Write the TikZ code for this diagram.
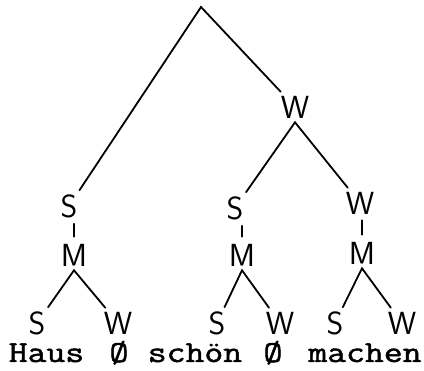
\documentclass[tikz,border=0pt]{standalone}
\usepackage{fontspec}
\usepackage{tikz}
\usetikzlibrary{calc}
\newfontfamily\typewfont[FakeStretch=1.2, FakeBold=1.6]{Latin Modern Mono}

\begin{document}
\begin{tikzpicture}[x=1pt, y=-1pt,
    lab/.style={font=\sffamily\fontsize{32}{34}\selectfont, inner sep=4pt},
    word/.style={font=\typewfont\fontsize{30.5}{34}\selectfont, inner sep=0pt, anchor=base},
    branch/.style={line width=1.8pt, line cap=round},
    tick/.style={line width=1.8pt, line cap=round, shorten <=2pt, shorten >=3pt}]
    \useasboundingbox (0,0) rectangle (424,371);

    % 1. Gốc và tầng trên
    \coordinate (root) at (201,7);
    \node[lab] (wTop) at (295,107) {W};
    \node[lab] (sL) at (69,206) {S};
    \node[lab] (sM) at (235,208) {S};
    \node[lab] (wR) at (360,203) {W};

    % 2. Các nút M
    \node[lab] (mL) at (74,255) {M};
    \node[lab] (mM) at (242,255) {M};
    \node[lab] (mR) at (362,253) {M};

    % 3. Các lá
    \node[lab] (sLL) at (37,323) {S};
    \node[lab] (wLL) at (118,323) {W};
    \node[lab] (sMM) at (217,323) {S};
    \node[lab] (wMM) at (280,323) {W};
    \node[lab] (sRR) at (335,323) {S};
    \node[lab] (wRR) at (402,323) {W};

    % 4. Các nhánh
    \draw[branch] (sL) -- (root) -- (wTop);
    \draw[branch] (sM) -- (wTop.south) -- (wR);
    \draw[branch] (sLL) -- (mL.south) -- (wLL);
    \draw[branch] (sMM) -- (mM.south) -- (wMM);
    \draw[branch] (sRR) -- (mR.south) -- (wRR);

    % Vạch nối S/W với M
    \draw[tick] (mL.north |- sL.south) -- (mL.north);
    \draw[tick] (mM.north |- sM.south) -- (mM.north);
    \draw[tick] (mR.north |- wR.south) -- (mR.north);

    % 5. Dòng chữ
    \node[word] (haus) at (46.5,362) {Haus};
    \node[word] (nullA) at (119,362) {Ø};
    \node[word] (schoen) at (195,362) {schön};
    \node[word] (nullB) at (273,362) {Ø};
    \node[word] (machen) at (365,362) {machen};
\end{tikzpicture}
\end{document}
